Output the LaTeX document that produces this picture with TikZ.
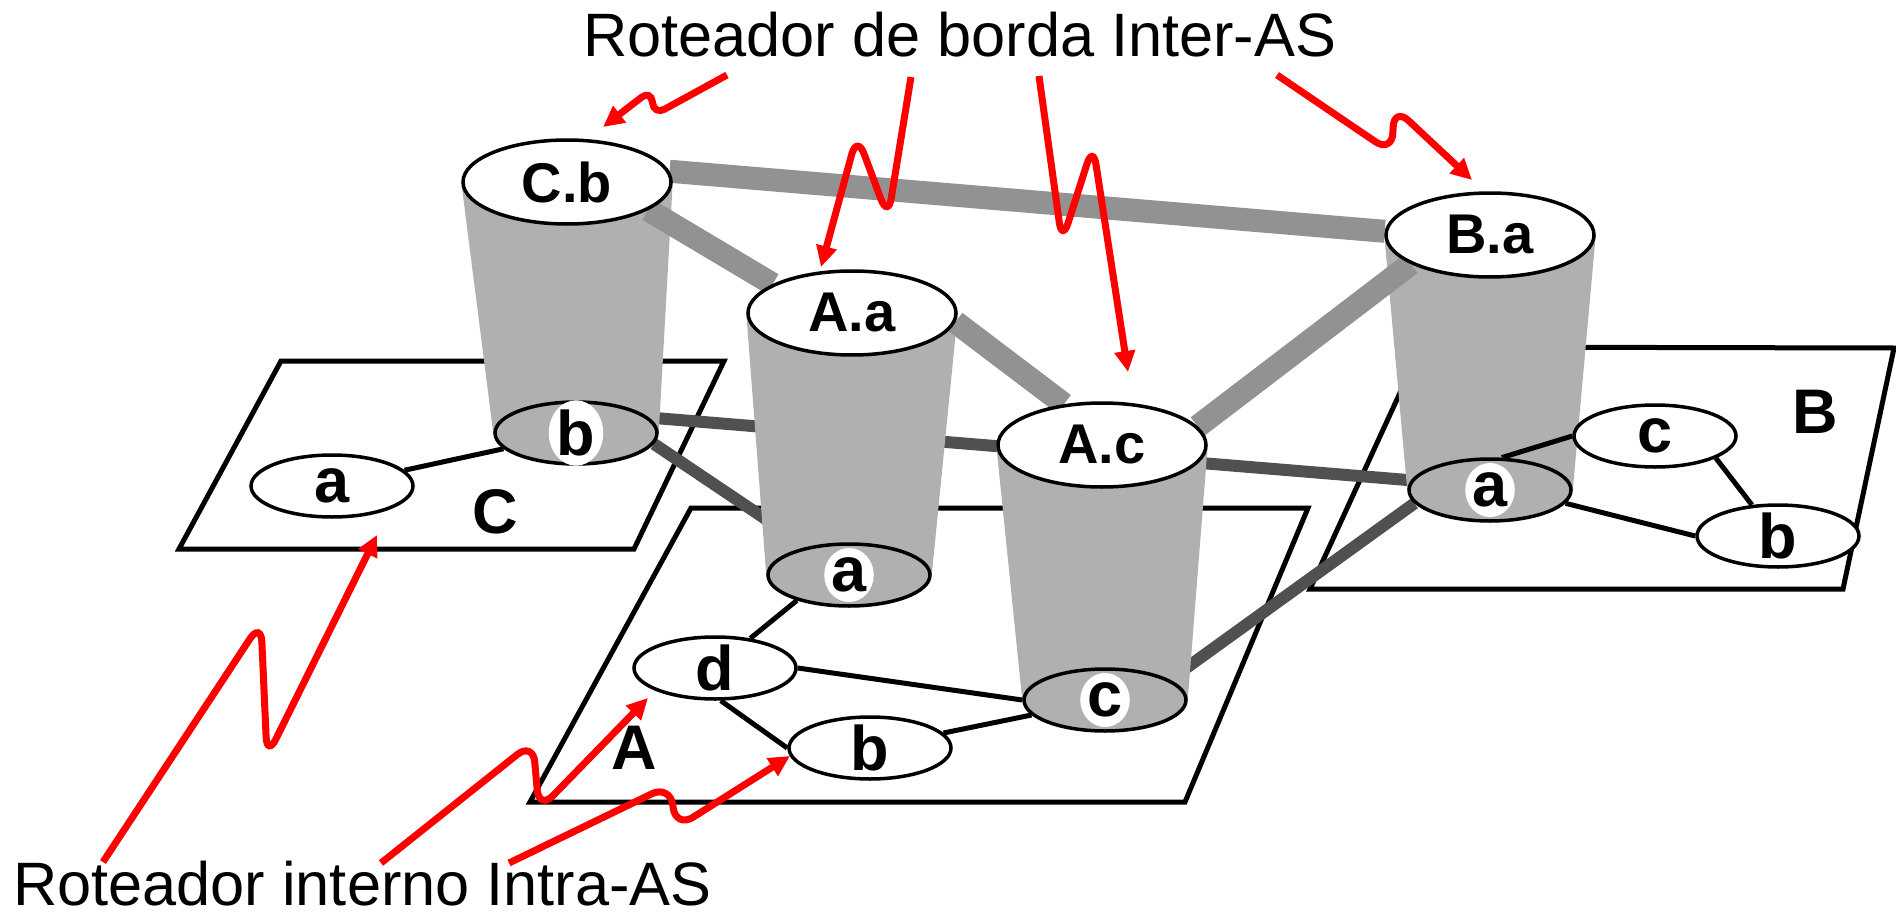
\documentclass[tikz,border=0pt]{standalone}
\usepackage{fontspec}
\setmainfont{Liberation Sans}
\usetikzlibrary{arrows.meta,calc,shapes.geometric}
\pgfdeclarelayer{planes}
\pgfdeclarelayer{dark}
\pgfdeclarelayer{cyl}
\pgfdeclarelayer{links}
\pgfdeclarelayer{top}
\pgfsetlayers{planes,dark,cyl,links,main,top}
\definecolor{cylgray}{RGB}{176,176,176}
\definecolor{linkgray}{RGB}{146,146,146}
\definecolor{darklinkgray}{RGB}{80,80,80}
\begin{document}
\begin{tikzpicture}[x=1pt,y=-1pt,
  routerborder/.style={draw=black, line width=3.5pt, fill=white, shape=ellipse, inner sep=0pt},
  toprouter/.style={routerborder, minimum width=208pt, minimum height=84pt, font=\fontsize{56}{60}\selectfont\bfseries},
  whiterouter/.style={routerborder, minimum width=162pt, minimum height=62pt},
  grayrouter/.style={routerborder, fill=cylgray, minimum width=162pt, minimum height=62pt},
  lbl/.style={font=\fontsize{63}{66}\selectfont\bfseries, inner sep=0pt},
  glbl/.style={lbl, shape=ellipse, fill=white, minimum width=46pt, minimum height=54pt},
  plane/.style={draw=black, line width=5pt, fill=white},
  cylbody/.style={fill=cylgray},
  darklink/.style={draw=darklinkgray, line width=12pt},
  glink/.style={draw=linkgray, line width=23pt},
  blink/.style={draw=black, line width=5pt},
  redarrow/.style={draw=red, line width=7pt, rounded corners=20pt, -{Triangle[length=21pt,width=20pt]}},
  note/.style={font=\fontsize{61.3}{70}\selectfont, inner sep=0pt, anchor=base west}
]
\useasboundingbox (0,0) rectangle (1896,915);

% texts
\node[note] (title) at (583,57) {Roteador de borda Inter-AS};
\node[note] (bottom) at (13,905) {Roteador interno Intra-AS};

% planes
\begin{pgfonlayer}{planes}
\draw[plane] (281,361) -- (724,361) -- (634,549) -- (179,549) -- cycle;
\draw[plane] (691,508) -- (1308,508) -- (1185,802) -- (530,802) -- cycle;
\draw[plane] (1421,347) -- (1894,348) -- (1843,589) -- (1310,589) -- cycle;
\end{pgfonlayer}
\node[lbl] (labC) at (495,512) {C};
\node[lbl] (labA) at (634,748) {A};
\node[lbl] (labB) at (1815,412) {B};

% border routers (top)
\node[toprouter] (Cb) at (567,182) {C.b};
\node[toprouter] (Aa) at (852,313) {A.a};
\node[toprouter] (Ac) at (1102,445) {A.c};
\node[toprouter] (Ba) at (1490,235) {B.a};

% routers in planes
\node[grayrouter, label={[glbl]center:b}] (bC) at (576,433) {};
\node[whiterouter, label={[lbl]center:a}] (aC) at (332,486) {};
\node[grayrouter, label={[glbl]center:a}] (aA) at (849,575) {};
\node[whiterouter, label={[lbl]center:d}] (dA) at (715,668) {};
\node[whiterouter, label={[lbl]center:b}] (bA) at (870,748) {};
\node[grayrouter, label={[glbl]center:c}] (cA) at (1105,700) {};
\node[grayrouter, label={[glbl]center:a}] (aB) at (1490,490) {};
\node[whiterouter, label={[lbl]center:c}] (cB) at (1655,436) {};
\node[whiterouter, label={[lbl]center:b}] (bB) at (1778,536) {};

% dark physical inter-AS links
\begin{pgfonlayer}{dark}
\draw[darklink] (bC.-8) -- (aA.center);
\draw[darklink] (bC.12) -- (aB.173);
\draw[darklink] ($(cA.center)!0.65!(cA.-70)$) -- (aB.190);
\end{pgfonlayer}

% cylinders
\begin{pgfonlayer}{cyl}
\fill[cylbody] (Cb.west) -- (Cb.east) -- (bC.east) -- (bC.west) -- cycle;
\fill[cylbody] (Aa.west) -- (Aa.east) -- (aA.east) -- (aA.west) -- cycle;
\fill[cylbody] (Ac.west) -- (Ac.east) -- (cA.east) -- (cA.west) -- cycle;
\fill[cylbody] (Ba.west) -- (Ba.east) -- (aB.east) -- (aB.west) -- cycle;
\end{pgfonlayer}

% links
\begin{pgfonlayer}{links}
\draw[glink] (Cb.6) -- (Ba.178);
\draw[glink] (Cb.-19) -- (Aa.160);
\draw[glink] (Aa.-5) -- (Ac.133);
\draw[glink] (Ac.11) -- (Ba.200);
\draw[blink] (aC) -- (bC);
\draw[blink] (aA.206) -- (dA.40);
\draw[blink] (dA.-80) -- (bA.west);
\draw[blink] (dA.east) -- (cA.west);
\draw[blink] (bA) -- (cA);
\draw[blink] (aB.70) -- (cB.west);
\draw[blink] (aB.-10) -- (bB.west);
\draw[blink] (cB.-20) -- (bB.130);
\end{pgfonlayer}

% red arrows
\coordinate (s1) at (727,75);  \coordinate (t1) at (603,127);
\coordinate (s2) at (911,77);  \coordinate (t2) at (821,267);
\coordinate (s3) at (1039,76); \coordinate (t3) at (1128,372);
\coordinate (s4) at (1277,75); \coordinate (t4) at (1472,180);
\coordinate (s5) at (103,862); \coordinate (t5) at (377,535);
\coordinate (s6) at (381,863); \coordinate (t6) at (648,698);
\coordinate (s7) at (509,863); \coordinate (t7) at (790,756);
\begin{pgfonlayer}{top}
\draw[redarrow, rounded corners=12pt] (s1) -- (654,115) -- (651,90) -- (t1);
\draw[redarrow] (s2) -- (888,218) -- (857,135) -- (t2);
\draw[redarrow] (s3) -- (1062,242) -- (1093,145) -- (t3);
\draw[redarrow] (s4) -- (1392,153) -- (1394,107) -- (t4);
\draw[redarrow] (s5) -- (261,622) -- (267,757) -- (t5);
\draw[redarrow] (s6) -- (533,742) -- (539,810) -- (t6);
\draw[redarrow] (s7) -- (670,785) -- (676,828) -- (t7);
\end{pgfonlayer}
\end{tikzpicture}
\end{document}
